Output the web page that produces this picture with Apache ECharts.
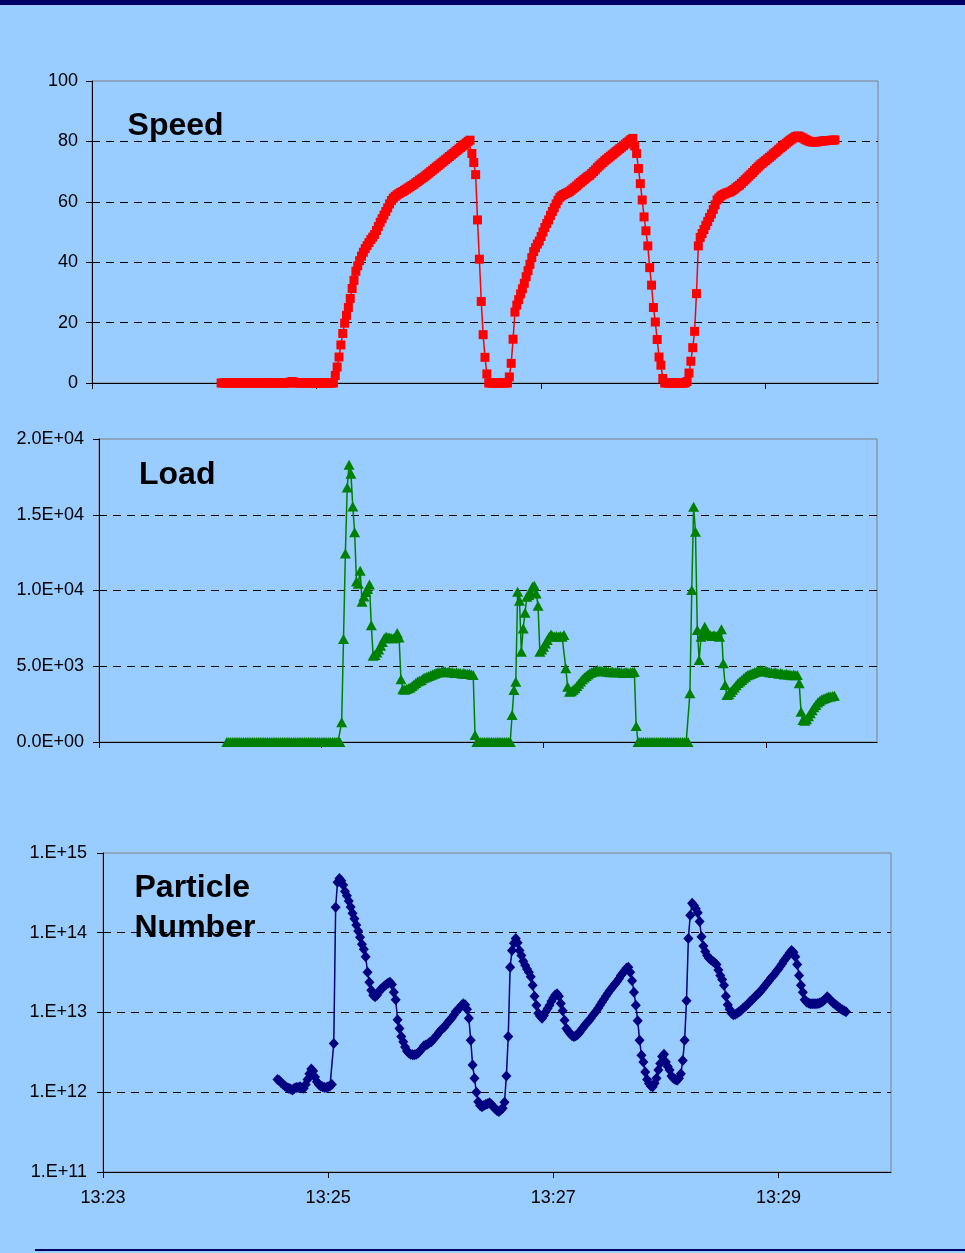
<!DOCTYPE html>
<html>
<head>
<meta charset="utf-8">
<script src="https://cdn.jsdelivr.net/npm/echarts@6/dist/echarts.min.js"></script>
<style>
  html, body { margin: 0; padding: 0; background: #99CCFF; }
  #chart { width: 965px; height: 1253px; }
</style>
</head>
<body>
<div id="chart"></div>
<script>
// Time base: seconds after 13:23:00, one sample per second.
const tickSecs = [0, 120, 240, 360];
const tickLabels = ['13:23', '13:25', '13:27', '13:29'];

// Vehicle speed and load, first sample at 13:24:09
const speedStart = 69;
const speed = [
  0,0,0,0,0,0,0,0,0,0, 0,0,0,0,0,0,0,0,0,0, 0,0,0,0,0,0,0,0,0,0, 0,0,0,0,0,0,0,
  0.3,0.5,0.3,
  0,0,0,0,0,0,0,0,0,0, 0,0,0,0,0,0,0,0,0,0, 0,
  2.5,5.3,8.6,12.6,16.4,19.8,22.4,25,28,31.3,
  34,37,38.8,40.5,42,43.3,44.5,45.5,46.5,47.5,
  48.3,49.2,50.5,51.8,53.2,54.4,55.6,56.8,58,59.3,
  60.4,61.2,61.8,62.3,62.7,63.1,63.4,63.8,64.2,64.6,
  65,65.4,65.8,66.3,66.7,67.2,67.6,68,68.5,69,
  69.5,70,70.5,71,71.5,72,72.5,73,73.5,74,
  74.5,75,75.5,76,76.5,77,77.5,78,78.5,79,
  79.5,80,80.4,76,73,69,54,41,27,16,
  8.5,3,0,0,0,0,0,0,0,0, 0,0,0,
  2,6.5,14.5,23.5,25.8,27.6,29.5,
  31.2,33,35.2,37.2,39.3,41.5,43.5,44.8,46,47,
  48.5,50,51.5,52.8,54,55.5,56.8,58,59.3,60.5,
  61.5,62,62.4,62.7,63,63.3,63.8,64.3,64.8,65.3,
  65.9,66.4,66.9,67.4,67.9,68.4,68.8,69.4,70,70.6,
  71.3,71.9,72.5,73,73.6,74.1,74.6,75.1,75.6,76.1,
  76.6,77.1,77.6,78.1,78.6,79.1,79.6,80.1,80.6,81,
  78.5,76,71,66,60.6,55,50.4,45.4,38.2,32.4,
  25,20.2,14.4,8.6,5.9,1.5,0,0,0,0, 0,0,0,0,0,0,0,0,
  0.5,3.3,
  7.2,11.7,17.1,29.6,45.4,48.2,49.5,50.8,52.2,53.5,
  54.8,56,57.5,59,60.6,61.3,61.9,62.3,62.6,62.9,
  63.1,63.3,63.7,64.1,64.6,65.1,65.5,66.1,66.7,67.3,
  67.9,68.5,69.1,69.7,70.4,71,71.6,72.2,72.7,73.2,
  73.7,74.2,74.7,75.2,75.8,76.3,76.8,77.4,77.9,78.4,
  78.9,79.4,79.9,80.4,80.8,81.2,81.6,81.8,81.7,81.4,
  81.1,80.7,80.4,80.1,79.9,79.8,79.8,79.8,79.9,80,
  80.1,80.2,80.2,80.3,80.3,80.4,80.4,80.5
];

const loadStart = 69;
const load = [
  0,0,0,0,0,0,0,0,0,0, 0,0,0,0,0,0,0,0,0,0, 0,0,0,0,0,0,0,0,0,0,
  0,0,0,0,0,0,0,0,0,0, 0,0,0,0,0,0,0,0,0,0, 0,0,0,0,0,0,0,0,0,0, 0,0,
  1300,6800,12450,16800,18300,17700,15550,13850,10600,
  10450,11300,9250,9600,9900,10100,10400,7700,5700,5750,
  5900,6100,6350,6600,6850,6950,6900,6900,6850,6850,
  6900,7200,6900,4150,3480,3450,3500,3550,3600,3700,
  3800,3900,4000,4050,4100,4200,4250,4300,4350,4400,
  4450,4500,4550,4600,4600,4650,4700,4650,4600,4650,
  4600,4600,4550,4600,4550,4550,4500,4550,4500,4500,
  4500,4450,4420,460,
  0,0,0,0,0,0,0,0,0,0, 0,0,0,0,0,0,0,0,0,
  1780,3430,3980,9920,9330,5960,7500,
  8530,9590,9700,9900,10250,10320,9800,9000,5960,6100,
  6290,6500,6730,6950,7100,7000,6950,7000,6950,7000,
  6950,7060,4860,3650,3320,3350,3450,3550,3700,3850,
  4000,4150,4250,4350,4450,4550,4600,4650,4700,4750,
  4700,4700,4650,4700,4650,4650,4600,4650,4600,4600,
  4650,4600,4600,4550,4600,4600,4550,4600,4600,4640,
  1060,
  0,0,0,0,0,0,0,0,0,0, 0,0,0,0,0,0,0,0,0,0, 0,0,0,0,0,0,0,0,
  3210,10030,15530,13880,7390,5410,6950,7200,7610,7300,7100,
  7050,7000,7050,7000,7000,6950,7440,5190,3760,3100,
  3150,3300,3450,3600,3750,3900,4000,4100,4200,4300,
  4400,4450,4500,4550,4600,4650,4700,4750,4700,4650,
  4700,4650,4600,4600,4550,4600,4550,4500,4550,4500,
  4450,4500,4450,4450,4400,4450,4400,4420,3870,2000,
  1450,1400,1500,1700,1900,2100,2300,2450,2600,2700,
  2800,2850,2900,2950,3000,3000,3040,3050
];

// Particle number, in units of 1e12, first sample at 13:24:33
const pnStart = 93;
const pnE12 = [
  1.45,1.40,1.32,1.25,1.20,1.15,1.12,
  1.10,1.07,1.12,1.15,1.15,1.17,1.13,1.12,1.25,1.45,
  1.70,1.95,1.85,1.55,1.35,1.25,1.20,1.17,1.15,1.15,
  1.17,1.20,1.25,4.1,209,430,480,450,398,330,
  290,250,210,175,150,125,105,88,72,62,
  50,32,24,19,16.5,15.8,16.5,18,19.5,20.5,
  21.5,22.5,23.5,24,22.5,18,14.5,8.1,6.3,5.0,
  4.3,3.7,3.3,3.1,3.0,2.95,2.95,3.0,3.1,3.3,
  3.5,3.8,3.9,4.0,4.2,4.3,4.6,4.9,5.2,5.6,
  6.0,6.3,6.6,7.1,7.6,8.1,8.6,9.3,10.2,10.8,
  11.3,12.2,12.9,12.5,11,8.5,4.5,2.2,1.5,1.0,
  0.76,0.68,0.66,0.68,0.70,0.72,0.74,0.70,0.66,0.62,
  0.59,0.575,0.60,0.63,0.75,1.6,5.0,37,60,74,
  85,75,60,52,44,39,35,32,28,22,
  16,12.3,9.8,9.0,8.5,9.2,10.2,11.2,12.3,13.8,
  15.2,16.6,17.2,16,13,10.5,8,6.3,5.8,5.4,
  5.1,5.0,5.1,5.3,5.6,6.1,6.5,7.0,7.5,7.9,
  8.5,9.2,9.8,10.5,11.4,12.4,13.5,14.7,16,17.3,
  18.7,20,21.5,23,24.5,26.5,29,31,33.5,36,
  37,32,25,18,12.3,7.9,4.5,2.9,2.4,1.8,
  1.45,1.29,1.2,1.17,1.3,1.5,1.9,2.3,2.8,3.0,
  2.4,2.1,1.9,1.6,1.5,1.45,1.41,1.5,1.7,2.5,
  4.5,14,85,166,234,220,200,178,138,89,
  68,58,52,48,46,44,42,40,34,29,
  26,22,16,12.5,11,9.8,9.4,9.5,9.8,10.2,
  10.6,11.2,11.7,12.3,13,13.8,14.5,15.3,16.2,17,
  18,19.2,20.5,22,23.5,25,27,28.5,30.5,33,
  35,38,41,45,48,52,56,60,57,50,
  40,29,22,18,14.5,13.5,13.2,12.9,12.9,12.9,
  12.9,13,13.2,13.5,14,14.8,15.8,15,14,13.3,
  12.8,12.2,11.7,11.2,10.8,10.5,10.2
];

const FONT = 'Arial, "Liberation Sans", sans-serif';

function series(start, values, scale) {
  return values.map((v, i) => [start + i, v * scale]);
}

function sciLabel(v) {
  if (v === 0) return '0.0E+00';
  const e = Math.floor(Math.log10(v) + 1e-9);
  const m = v / Math.pow(10, e);
  return m.toFixed(1) + 'E+' + String(e).padStart(2, '0');
}

function timeAxis(gridIndex, showLabels) {
  return {
    type: 'value', gridIndex, min: 0, max: 420, interval: 120,
    axisLine: { show: true, onZero: false, lineStyle: { color: '#000', width: 1 } },
    axisTick: { show: true, length: 6, customValues: tickSecs, lineStyle: { color: '#000' } },
    axisLabel: {
      show: showLabels, customValues: tickSecs,
      formatter: v => {
        const k = tickSecs.indexOf(Math.round(v));
        return k >= 0 ? tickLabels[k] : '';
      },
      color: '#000', fontSize: 18, fontFamily: FONT, margin: 17
    },
    splitLine: { show: false }
  };
}

const gridLine = { show: true, showMinLine: false, showMaxLine: false,
  lineStyle: { color: '#000', width: 1, type: [8, 6] } };

function valueAxis(gridIndex, extra, margin) {
  return Object.assign({
    gridIndex,
    axisLine: { show: true, onZero: false, lineStyle: { color: '#000', width: 1 } },
    axisTick: { show: true, length: 6, lineStyle: { color: '#000' } },
    splitLine: gridLine
  }, extra, {
    axisLabel: Object.assign({ color: '#000', fontSize: 18, fontFamily: FONT, margin },
      extra.axisLabel || {})
  });
}

const gridStyle = { show: true, backgroundColor: 'transparent', borderColor: '#808080', borderWidth: 1, containLabel: false };

const chart = echarts.init(document.getElementById('chart'), null, { renderer: 'canvas' });
chart.setOption({
  animation: false,
  backgroundColor: '#99CCFF',
  grid: [
    Object.assign({ left: 92, top: 81, width: 786, height: 302 }, gridStyle),
    Object.assign({ left: 99, top: 439, width: 778, height: 303 }, gridStyle),
    Object.assign({ left: 103, top: 853, width: 788, height: 319 }, gridStyle)
  ],
  xAxis: [timeAxis(0, false), timeAxis(1, false), timeAxis(2, true)],
  yAxis: [
    valueAxis(0, { type: 'value', min: 0, max: 100, interval: 20 }, 14),
    valueAxis(1, { type: 'value', min: 0, max: 20000, interval: 5000,
      axisLabel: { formatter: sciLabel } }, 15),
    valueAxis(2, { type: 'log', logBase: 10, min: 1e11, max: 1e15,
      axisLabel: { formatter: v => '1.E+' + Math.round(Math.log10(v)) } }, 16)
  ],
  series: [
    {
      name: 'Speed', type: 'line', xAxisIndex: 0, yAxisIndex: 0,
      data: series(speedStart, speed, 1),
      symbol: 'rect', symbolSize: 9, showAllSymbol: true, clip: false,
      lineStyle: { color: '#FF0000', width: 1.5 }, itemStyle: { color: '#FF0000' }
    },
    {
      name: 'Load', type: 'line', xAxisIndex: 1, yAxisIndex: 1,
      data: series(loadStart, load, 1),
      symbol: 'triangle', symbolSize: [11, 10], showAllSymbol: true, clip: false,
      lineStyle: { color: '#008000', width: 1.5 }, itemStyle: { color: '#008000' }
    },
    {
      name: 'Particle Number', type: 'line', xAxisIndex: 2, yAxisIndex: 2,
      data: series(pnStart, pnE12, 1e12),
      symbol: 'diamond', symbolSize: [10, 11], showAllSymbol: true, clip: false,
      lineStyle: { color: '#000080', width: 1.5 }, itemStyle: { color: '#000080' }
    }
  ],
  graphic: [
    { type: 'rect', shape: { x: 0, y: 0, width: 965, height: 5 }, style: { fill: '#000066' } },
    { type: 'rect', shape: { x: 35, y: 1249, width: 930, height: 2 }, style: { fill: '#000066' } },
    { type: 'text', left: 127.6, top: 110.2, style: { text: 'Speed', font: 'bold 32px ' + FONT, fill: '#000' } },
    { type: 'text', left: 139, top: 459.6, style: { text: 'Load', font: 'bold 32px ' + FONT, fill: '#000' } },
    { type: 'text', left: 134.5, top: 868, style: { text: 'Particle\nNumber', font: 'bold 32px ' + FONT, lineHeight: 40, fill: '#000' } }
  ]
});
</script>
</body>
</html>
